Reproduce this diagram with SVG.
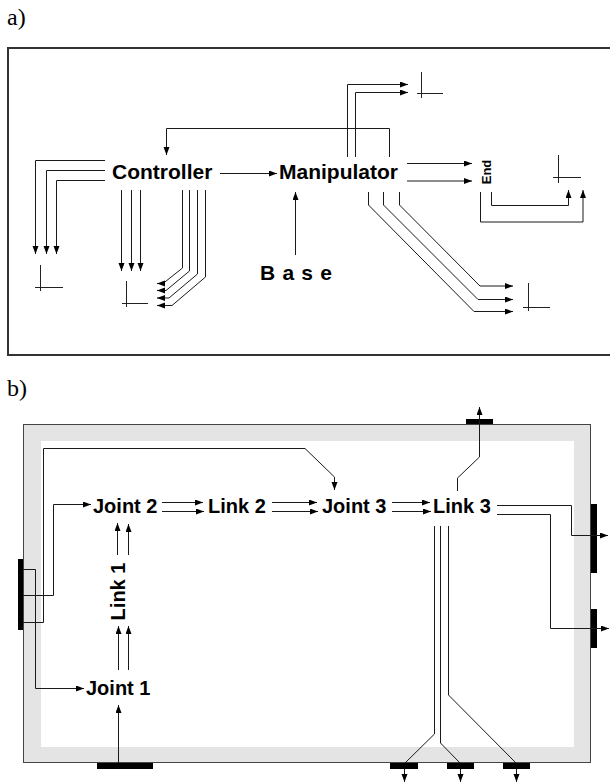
<svg xmlns="http://www.w3.org/2000/svg" width="610" height="784" viewBox="0 0 610 784">
<style>
.lbl{font-family:"Liberation Serif","Times New Roman",serif;font-size:24px;fill:#000}
.node{font-family:"Liberation Sans",Arial,sans-serif;font-weight:bold;fill:#000}
.na{font-size:21px}
.nb{font-size:20px}
.ln{fill:none;stroke:#1a1a1a;stroke-width:1}
.arr{fill:none;stroke:#1a1a1a;stroke-width:1;marker-end:url(#ah)}
.ax{fill:none;stroke:#222;stroke-width:1}
.bar{fill:#000}
</style>
<defs>
<marker id="ah" markerUnits="userSpaceOnUse" markerWidth="9" markerHeight="7" refX="8" refY="3" orient="auto">
<path d="M0,0 L8,3 L0,6 z" fill="#000"/>
</marker>
</defs>
<rect width="610" height="784" fill="#fff"/>
<text class="lbl" x="7" y="25">a)</text>
<text class="lbl" x="7" y="396">b)</text>

<!-- panel a -->
<rect x="8" y="48" width="603" height="307" fill="#fff" stroke="#333" stroke-width="2"/>

<g id="controller"><text class="node na" x="112" y="179">Controller</text></g>
<g id="manipulator"><text class="node na" x="279" y="179">Manipulator</text></g>
<g id="base"><text class="node na" x="260" y="280" textLength="72" lengthAdjust="spacing">B a s e</text></g>
<g id="end"><text class="node" font-size="13" text-anchor="middle" transform="translate(490.5,172) rotate(-90)">End</text></g>

<g id="frames-a">
<path class="ax" d="M40.5,265 V291 M35,287.5 H63"/>
<path class="ax" d="M126.5,281 V307 M122,303.5 H148"/>
<path class="ax" d="M421.5,72 V98 M417,93.5 H443"/>
<path class="ax" d="M558.5,155 V183 M553,177.5 H581"/>
<path class="ax" d="M528.5,283 V311 M523,307.5 H550"/>
</g>

<g id="connectors-a">
<path class="arr" d="M389.5,157 V128.5 H166.5 V155"/>
<path class="arr" d="M220,173.5 H277"/>
<path class="arr" d="M295.5,255 V192"/>
<path class="arr" d="M105,160.5 H35.5 V254"/>
<path class="arr" d="M105,170.5 H46.5 V254"/>
<path class="arr" d="M105,180.5 H56.5 V254"/>
<path class="arr" d="M121.5,190 V271"/>
<path class="arr" d="M131.5,190 V271"/>
<path class="arr" d="M140.5,190 V271"/>
<path class="arr" d="M182.5,190 V268 L163,283.5 H157"/>
<path class="arr" d="M189.5,190 V271 L166,290.5 H157"/>
<path class="arr" d="M197.5,190 V274 L169,298 H157"/>
<path class="arr" d="M205.5,190 V277 L172,305.5 H157"/>
<path class="arr" d="M347.5,157 V84.5 H408"/>
<path class="arr" d="M355.5,157 V92.5 H408"/>
<path class="arr" d="M407,163.5 H472"/>
<path class="arr" d="M407,181 H472"/>
<path class="arr" d="M491.5,192 V205.5 H568.5 V190"/>
<path class="arr" d="M480.5,192 V222 H583 V190"/>
<path class="arr" d="M368.5,192 V205 L474,311.5 H513"/>
<path class="arr" d="M383.5,192 V205 L478,299.5 H513"/>
<path class="arr" d="M399.5,192 V205 L480,286 H513"/>
</g>

<!-- panel b -->
<rect x="23.5" y="424.5" width="567" height="338" fill="#e4e4e4" stroke="#444" stroke-width="1"/>
<rect x="41" y="441" width="533" height="306" fill="#fff"/>

<g id="ports">
<rect class="bar" x="18" y="559" width="5" height="71"/>
<rect class="bar" x="466" y="419" width="27" height="5"/>
<rect class="bar" x="591" y="504" width="6" height="69"/>
<rect class="bar" x="591" y="609" width="6" height="39"/>
<rect class="bar" x="97" y="763" width="56" height="6"/>
<rect class="bar" x="390" y="763" width="28" height="6"/>
<rect class="bar" x="447" y="763" width="27" height="6"/>
<rect class="bar" x="503" y="763" width="27" height="6"/>
</g>

<g id="joint1"><text class="node nb" x="86" y="695">Joint 1</text></g>
<g id="link1"><text class="node nb" text-anchor="middle" transform="translate(125,591.5) rotate(-90)">Link 1</text></g>
<g id="joint2"><text class="node nb" x="93" y="513">Joint 2</text></g>
<g id="link2"><text class="node nb" x="208" y="513">Link 2</text></g>
<g id="joint3"><text class="node nb" x="322" y="513">Joint 3</text></g>
<g id="link3"><text class="node nb" x="433" y="513">Link 3</text></g>

<g id="connectors-b">
<path class="arr" d="M23,569.5 H35.5 V688.5 H84"/>
<path class="arr" d="M23,595.5 H53.5 V504.5 H91"/>
<path class="arr" d="M23,622.5 H43.5 V448.5 H305 L334.5,477 V490"/>
<path class="arr" d="M118.5,763 V705"/>
<path class="arr" d="M118.5,670 V626"/>
<path class="arr" d="M128.5,670 V626"/>
<path class="arr" d="M117.5,555 V523"/>
<path class="arr" d="M128.5,555 V524"/>
<path class="arr" d="M162,502.5 H203"/>
<path class="arr" d="M162,511.5 H204"/>
<path class="arr" d="M272,502.5 H317"/>
<path class="arr" d="M272,511.5 H318"/>
<path class="arr" d="M392,502.5 H430"/>
<path class="arr" d="M392,511.5 H431"/>
<path class="arr" d="M457.5,491 V478 L479.5,457 V407"/>
<path class="arr" d="M497,505.5 H571.5 V535.5 H608"/>
<path class="arr" d="M497,514.5 H550.5 V628.5 H609"/>
<path class="ln" d="M434.5,526 V734 L405,763"/>
<path class="ln" d="M440.5,526 V743 L460,763"/>
<path class="ln" d="M448.5,526 V695 L516,763"/>
<path class="arr" d="M404.5,769 V782"/>
<path class="arr" d="M460.5,769 V782"/>
<path class="arr" d="M516.5,769 V782"/>
</g>
</svg>
